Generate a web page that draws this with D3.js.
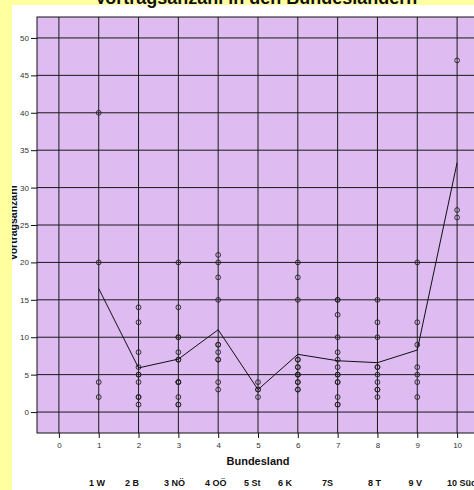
<!DOCTYPE html>
<html>
<head>
<meta charset="utf-8">
<script src="https://cdn.jsdelivr.net/npm/d3@7"></script>
<style>
  html, body { margin: 0; padding: 0; background: #FFFFA0; }
  svg { display: block; }
  text { font-family: "Liberation Sans", Arial, sans-serif; }
</style>
</head>
<body>
<svg id="chart" width="474" height="490"></svg>
<script>
// ---- data ----
const bundeslaender = [1, 2, 3, 4, 5, 6, 7, 8, 9, 10];
const bundeslandNamen = ["1 W", "2 B", "3 NÖ", "4 OÖ", "5 St", "6 K", "7S", "8 T", "9 V", "10 SüdT"];
const vortraegeW    = [40, 20, 4, 2];
const vortraegeB    = [14, 12, 8, 6, 5, 5, 4, 2, 2, 1];
const vortraegeNOe  = [20, 14, 10, 10, 8, 7, 7, 4, 4, 4, 2, 1, 1];
const vortraegeOOe  = [21, 20, 18, 15, 9, 9, 8, 7, 7, 4, 3];
const vortraegeSt   = [4, 3, 3, 2];
const vortraegeK    = [20, 18, 15, 7, 7, 6, 6, 5, 5, 5, 4, 4, 3, 3];
const vortraegeS    = [15, 15, 13, 10, 8, 7, 6, 5, 5, 4, 4, 2, 1, 1];
const vortraegeT    = [15, 12, 10, 6, 6, 5, 4, 3, 3, 2];
const vortraegeV    = [20, 12, 9, 6, 5, 4, 2];
const vortraegeSuedT = [47, 27, 26];
const xTicks = [0, 1, 2, 3, 4, 5, 6, 7, 8, 9, 10];
const yTicks = [0, 5, 10, 15, 20, 25, 30, 35, 40, 45, 50];
const titel = "Vortragsanzahl in den Bundesländern";
const xTitel = "Bundesland";
const yTitel = "Vortragsanzahl";

const serien = [vortraegeW, vortraegeB, vortraegeNOe, vortraegeOOe, vortraegeSt,
                vortraegeK, vortraegeS, vortraegeT, vortraegeV, vortraegeSuedT];

// ---- layout ----
const svg = d3.select("#chart");
const plot = { left: 37, top: 17, right: 479, bottom: 433 };
const x = d3.scaleLinear().domain([-0.55, 10.55]).range([plot.left, plot.right]);
const y = d3.scaleLinear().domain([-2.8, 52.8]).range([plot.bottom, plot.top]);

// white panel
svg.append("rect").attr("x", 12).attr("y", 5).attr("width", 462).attr("height", 485).attr("fill", "#ffffff");
svg.append("clipPath").attr("id", "panel")
  .append("rect").attr("x", 12).attr("y", 5).attr("width", 462).attr("height", 485);
const g = svg.append("g").attr("clip-path", "url(#panel)");

// plot background
g.append("rect")
  .attr("x", plot.left).attr("y", plot.top)
  .attr("width", plot.right - plot.left).attr("height", plot.bottom - plot.top)
  .attr("fill", "#DEBBF1");

// grid
g.selectAll("line.vg").data(xTicks).join("line")
  .attr("x1", d => x(d)).attr("x2", d => x(d))
  .attr("y1", plot.top).attr("y2", plot.bottom)
  .attr("stroke", "#1a1a1a").attr("stroke-width", 1);
g.selectAll("line.hg").data(yTicks).join("line")
  .attr("x1", plot.left).attr("x2", plot.right)
  .attr("y1", d => y(d)).attr("y2", d => y(d))
  .attr("stroke", "#1a1a1a").attr("stroke-width", 1);

// border
g.append("rect")
  .attr("x", plot.left).attr("y", plot.top)
  .attr("width", plot.right - plot.left).attr("height", plot.bottom - plot.top)
  .attr("fill", "none").attr("stroke", "#111").attr("stroke-width", 1);

// points
const punkte = [];
serien.forEach((s, i) => s.forEach(v => punkte.push({ land: bundeslaender[i], wert: v })));
g.selectAll("circle.pt").data(punkte).join("circle")
  .attr("cx", d => x(d.land)).attr("cy", d => y(d.wert)).attr("r", 2.4)
  .attr("fill", "none").attr("stroke", "#222").attr("stroke-width", 0.9);

// mean line
const mittel = serien.map((s, i) => ({ land: bundeslaender[i], wert: d3.mean(s) }));
g.append("path").datum(mittel)
  .attr("d", d3.line().x(d => x(d.land)).y(d => y(d.wert)))
  .attr("fill", "none").attr("stroke", "#111").attr("stroke-width", 1);

// axes
const yAxis = g.append("g").attr("transform", `translate(${plot.left},0)`)
  .call(d3.axisLeft(y).tickValues(yTicks).tickSize(6).tickPadding(2));
const xAxis = g.append("g").attr("transform", `translate(0,${plot.bottom})`)
  .call(d3.axisBottom(x).tickValues(xTicks).tickSize(5).tickPadding(4));
[yAxis, xAxis].forEach(a => {
  a.select(".domain").remove();
  a.selectAll(".tick line").attr("stroke", "#111");
  a.selectAll(".tick text").attr("fill", "#333").style("font-size", "8px")
    .style("font-family", "Liberation Sans, Arial, sans-serif");
});

// axis titles
g.append("text").attr("x", 258).attr("y", 465).attr("text-anchor", "middle")
  .style("font-size", "11px").style("font-weight", "bold").attr("fill", "#111").text(xTitel);
g.append("text").attr("transform", "translate(17,223) rotate(-90)").attr("text-anchor", "middle")
  .style("font-size", "10.5px").style("font-weight", "bold").attr("fill", "#111").text(yTitel);

// Bundesland names line
const sp = n => " ".repeat(n);
const gaps = [8, 10, 8, 7, 7, 12, 14, 11, 10];
let zeile = bundeslandNamen[0];
gaps.forEach((n, i) => { zeile += sp(n) + bundeslandNamen[i + 1]; });
g.append("text").attr("x", 89).attr("y", 486)
  .attr("xml:space", "preserve").style("white-space", "pre")
  .style("font-size", "9px").style("font-weight", "bold").attr("fill", "#111").text(zeile);

// title
svg.append("text").attr("x", 256).attr("y", 3.5).attr("text-anchor", "middle")
  .style("font-size", "18px").style("font-weight", "bold").attr("fill", "#111").text(titel);
</script>
</body>
</html>
